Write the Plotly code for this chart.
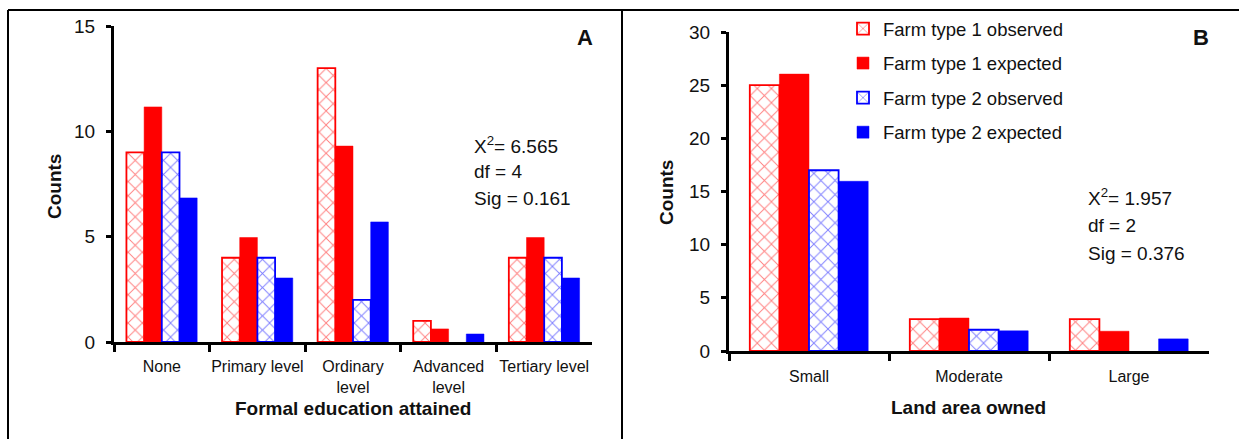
import plotly.graph_objects as go

W, H = 1239, 439

# ---------------- data ----------------
edu_categories = ["None", "Primary level", "Ordinary<br>level", "Advanced<br>level", "Tertiary level"]
edu_ft1_observed = [9, 4, 13, 1, 4]
edu_ft1_expected = [11.16, 4.96, 9.3, 0.62, 4.96]
edu_ft2_observed = [9, 4, 2, 0, 4]
edu_ft2_expected = [6.84, 3.04, 5.7, 0.38, 3.04]

land_categories = ["Small", "Moderate", "Large"]
land_ft1_observed = [25, 3, 3]
land_ft1_expected = [26.04, 3.1, 1.86]
land_ft2_observed = [17, 2, 0]
land_ft2_expected = [15.96, 1.9, 1.14]

series_names = ["Farm type 1 observed", "Farm type 1 expected",
                "Farm type 2 observed", "Farm type 2 expected"]

stats_a = ["X<sup>2</sup>= 6.565", "df = 4", "Sig = 0.161"]
stats_b = ["X<sup>2</sup>= 1.957", "df = 2", "Sig = 0.376"]

RED = "#FF0000"
BLUE = "#0000FF"
FONT = "Liberation Sans, Arial, sans-serif"
TXT = "#111111"


def px_x(p):
    return p / W


def px_y(p):
    return 1 - p / H


def obs_marker(color, vals):
    return dict(color="white",
                line=dict(color=color, width=[1.8 if v > 0 else 0 for v in vals]),
                pattern=dict(shape="x", fgcolor=color, bgcolor="white",
                             size=10, solidity=0.18, fillmode="overlay"))


def solid_marker(color, vals):
    return dict(color=color, line=dict(color=color, width=0.5))


fig = go.Figure()

panels = [
    (edu_categories, [edu_ft1_observed, edu_ft1_expected, edu_ft2_observed, edu_ft2_expected], "x", "y", False),
    (land_categories, [land_ft1_observed, land_ft1_expected, land_ft2_observed, land_ft2_expected], "x2", "y2", True),
]
styles = [(obs_marker, RED), (solid_marker, RED), (obs_marker, BLUE), (solid_marker, BLUE)]

for cats, series, xa, ya, showleg in panels:
    for i, vals in enumerate(series):
        fn, col = styles[i]
        fig.add_trace(go.Bar(
            x=cats, y=vals, name=series_names[i], marker=fn(col, vals),
            xaxis=xa, yaxis=ya, showlegend=showleg,
            legendgroup="g%d" % i, hoverinfo="x+y+name",
        ))

axis_common = dict(showline=True, linecolor="black", linewidth=3,
                   ticks="outside", tickcolor="black", tickwidth=3,
                   showgrid=False, zeroline=False, color=TXT,
                   automargin=False, fixedrange=True)
xtick_font = dict(family=FONT, size=16, color=TXT)
ytick_font = dict(family=FONT, size=19, color=TXT)

fig.update_layout(
    width=W, height=H,
    margin=dict(l=0, r=0, t=0, b=0, autoexpand=False),
    paper_bgcolor="white", plot_bgcolor="white",
    barmode="group", bargap=0.26, bargroupgap=0,
    font=dict(family=FONT, size=18, color=TXT),
    xaxis=dict(domain=[px_x(114), px_x(592)], anchor="y", type="category",
               tickson="boundaries", ticklen=7, range=[-0.5, 4.5], tickangle=0,
               ticklabelstandoff=8, tickfont=xtick_font, **axis_common),
    yaxis=dict(domain=[px_y(342), px_y(26)], anchor="x", range=[0, 15],
               tickvals=[0, 5, 10, 15], ticklen=5, ticklabelstandoff=7,
               tickfont=ytick_font, **axis_common),
    xaxis2=dict(domain=[px_x(729), px_x(1209)], anchor="y2", type="category",
                tickson="boundaries", ticklen=7, range=[-0.5, 2.5], tickangle=0,
                ticklabelstandoff=9, tickfont=xtick_font, **axis_common),
    yaxis2=dict(domain=[px_y(351), px_y(32)], anchor="x2", range=[0, 30],
                tickvals=[0, 5, 10, 15, 20, 25, 30], ticklen=5, ticklabelstandoff=7,
                tickfont=ytick_font, **axis_common),
    legend=dict(x=px_x(843), y=px_y(10), xanchor="left", yanchor="top",
                bgcolor="rgba(0,0,0,0)", font=dict(family=FONT, size=18.5, color=TXT),
                tracegroupgap=7.5, traceorder="grouped"),
)


def add_text(text, x, y, size, bold=False, angle=0, xanchor="center"):
    fig.add_annotation(text="<b>%s</b>" % text if bold else text,
                       xref="paper", yref="paper", x=px_x(x), y=px_y(y),
                       xanchor=xanchor, yanchor="middle", textangle=angle,
                       showarrow=False, font=dict(family=FONT, size=size, color=TXT))


add_text("Counts", 54, 186, 19, bold=True, angle=-90)
add_text("Counts", 666, 192, 19, bold=True, angle=-90)
add_text("Formal education attained", 353, 408, 19, bold=True)
add_text("Land area owned", 969, 407, 19, bold=True)
add_text("A", 585, 37, 22, bold=True)
add_text("B", 1201, 37, 22, bold=True)
for k, line in enumerate(stats_a):
    add_text(line, 472, 145 + 26.5 * k, 19, xanchor="left")
for k, line in enumerate(stats_b):
    add_text(line, 1086, 197 + 28 * k, 19, xanchor="left")

# panel frame lines
for x0, y0, x1, y1 in [(8, 10, W, 10), (8, 10, 8, H), (622, 10, 622, H)]:
    fig.add_shape(type="line", xref="paper", yref="paper",
                  x0=px_x(x0), y0=px_y(y0), x1=px_x(x1), y1=px_y(y1),
                  line=dict(color="black", width=2))

fig.write_html("out.html", config={"displayModeBar": False})
